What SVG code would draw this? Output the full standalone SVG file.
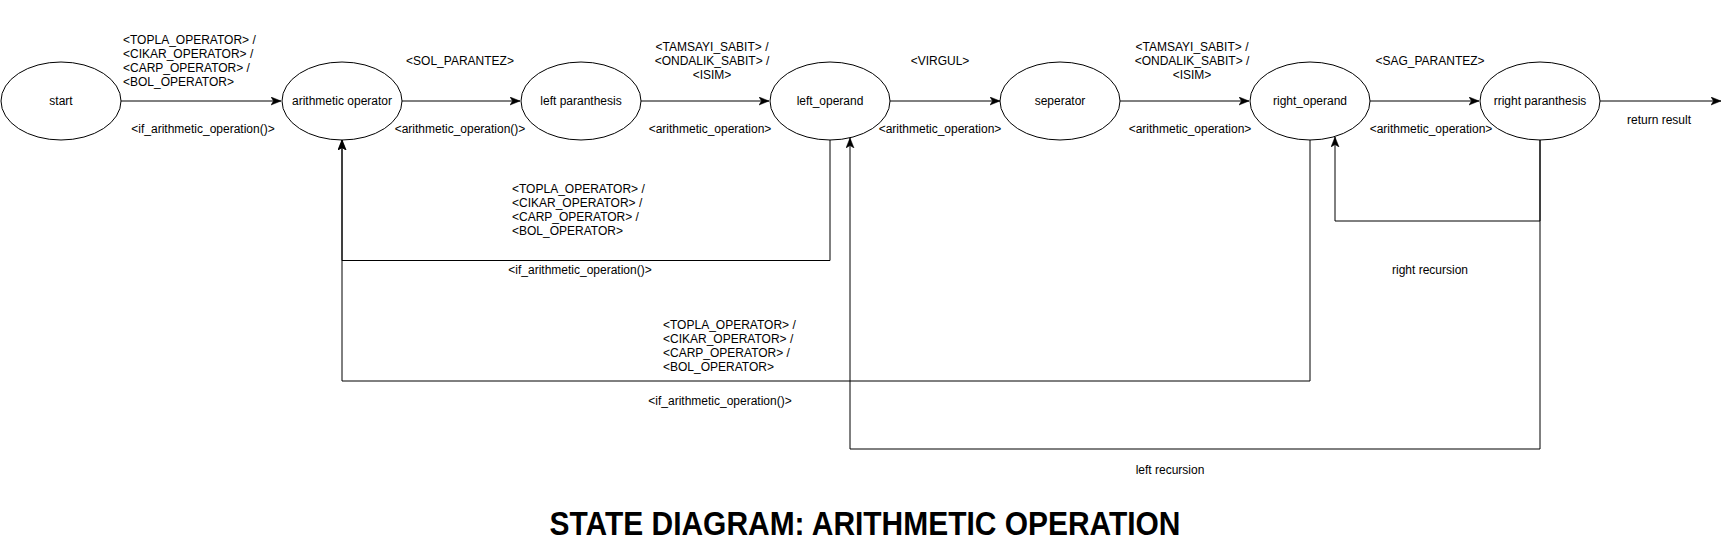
<svg xmlns="http://www.w3.org/2000/svg" width="1731" height="543" viewBox="0 0 1731 543">
<style>
.node ellipse{fill:#fff;stroke:#000;stroke-width:1}
text{font-family:"Liberation Sans",Arial,sans-serif;font-size:12px;fill:#000}
.c{text-anchor:middle}
.conn path{fill:none;stroke:#000;stroke-width:1}
.title{font-size:33px;font-weight:bold}
</style>
<defs>
<marker id="arr" markerUnits="userSpaceOnUse" markerWidth="11" markerHeight="9" refX="10" refY="4" orient="auto">
<path d="M0,0 L10,4 L0,8 L2.5,4 Z" fill="#000" stroke="#000" stroke-width="0.5"/>
</marker>
</defs>
<rect width="1731" height="543" fill="#fff"/>
<g id="connectors" class="conn">
<path d="M121,101 H281" marker-end="url(#arr)"/>
<path d="M402,101 H520" marker-end="url(#arr)"/>
<path d="M641,101 H769" marker-end="url(#arr)"/>
<path d="M890,101 H1000" marker-end="url(#arr)"/>
<path d="M1120,101 H1249" marker-end="url(#arr)"/>
<path d="M1370,101 H1479" marker-end="url(#arr)"/>
<path d="M1600,101 H1721" marker-end="url(#arr)"/>
<path d="M830,140 V260.5 H342 V140" marker-end="url(#arr)"/>
<path d="M1310,140 V381 H342 V140" marker-end="url(#arr)"/>
<path d="M1540,140 V449 H850 V138" marker-end="url(#arr)"/>
<path d="M1540,140 V221 H1335 V137" marker-end="url(#arr)"/>
</g>
<g id="node-start" class="node"><ellipse cx="61" cy="101" rx="60" ry="39"/><text class="c" x="61" y="105">start</text></g>
<g id="node-arithmetic-operator" class="node"><ellipse cx="342" cy="101" rx="60" ry="39"/><text class="c" x="342" y="105">arithmetic operator</text></g>
<g id="node-left-paranthesis" class="node"><ellipse cx="581" cy="101" rx="60" ry="39"/><text class="c" x="581" y="105">left paranthesis</text></g>
<g id="node-left-operand" class="node"><ellipse cx="830" cy="101" rx="60" ry="39"/><text class="c" x="830" y="105">left_operand</text></g>
<g id="node-seperator" class="node"><ellipse cx="1060" cy="101" rx="60" ry="39"/><text class="c" x="1060" y="105">seperator</text></g>
<g id="node-right-operand" class="node"><ellipse cx="1310" cy="101" rx="60" ry="39"/><text class="c" x="1310" y="105">right_operand</text></g>
<g id="node-rright-paranthesis" class="node"><ellipse cx="1540" cy="101" rx="60" ry="39"/><text class="c" x="1540" y="105">rright paranthesis</text></g>
<g id="labels">
<text x="123" y="44">&lt;TOPLA_OPERATOR&gt; /</text>
<text x="123" y="58">&lt;CIKAR_OPERATOR&gt; /</text>
<text x="123" y="72">&lt;CARP_OPERATOR&gt; /</text>
<text x="123" y="86">&lt;BOL_OPERATOR&gt;</text>
<text class="c" x="203" y="133">&lt;if_arithmetic_operation()&gt;</text>
<text class="c" x="460" y="65">&lt;SOL_PARANTEZ&gt;</text>
<text class="c" x="460" y="133">&lt;arithmetic_operation()&gt;</text>
<text class="c" x="712" y="50.5">&lt;TAMSAYI_SABIT&gt; /</text>
<text class="c" x="712" y="64.5">&lt;ONDALIK_SABIT&gt; /</text>
<text class="c" x="712" y="78.5">&lt;ISIM&gt;</text>
<text class="c" x="710" y="133">&lt;arithmetic_operation&gt;</text>
<text class="c" x="940" y="65">&lt;VIRGUL&gt;</text>
<text class="c" x="940" y="133">&lt;arithmetic_operation&gt;</text>
<text class="c" x="1192" y="50.5">&lt;TAMSAYI_SABIT&gt; /</text>
<text class="c" x="1192" y="64.5">&lt;ONDALIK_SABIT&gt; /</text>
<text class="c" x="1192" y="78.5">&lt;ISIM&gt;</text>
<text class="c" x="1190" y="133">&lt;arithmetic_operation&gt;</text>
<text class="c" x="1430" y="65">&lt;SAG_PARANTEZ&gt;</text>
<text class="c" x="1431" y="133">&lt;arithmetic_operation&gt;</text>
<text class="c" x="1659" y="124">return result</text>
<text x="512" y="193">&lt;TOPLA_OPERATOR&gt; /</text>
<text x="512" y="207">&lt;CIKAR_OPERATOR&gt; /</text>
<text x="512" y="221">&lt;CARP_OPERATOR&gt; /</text>
<text x="512" y="235">&lt;BOL_OPERATOR&gt;</text>
<text class="c" x="580" y="274">&lt;if_arithmetic_operation()&gt;</text>
<text x="663" y="329">&lt;TOPLA_OPERATOR&gt; /</text>
<text x="663" y="343">&lt;CIKAR_OPERATOR&gt; /</text>
<text x="663" y="357">&lt;CARP_OPERATOR&gt; /</text>
<text x="663" y="371">&lt;BOL_OPERATOR&gt;</text>
<text class="c" x="720" y="405">&lt;if_arithmetic_operation()&gt;</text>
<text class="c" x="1430" y="274">right recursion</text>
<text class="c" x="1170" y="474">left recursion</text>
</g>
<text class="c title" x="865" y="535" textLength="631" lengthAdjust="spacingAndGlyphs">STATE DIAGRAM: ARITHMETIC OPERATION</text>
</svg>
